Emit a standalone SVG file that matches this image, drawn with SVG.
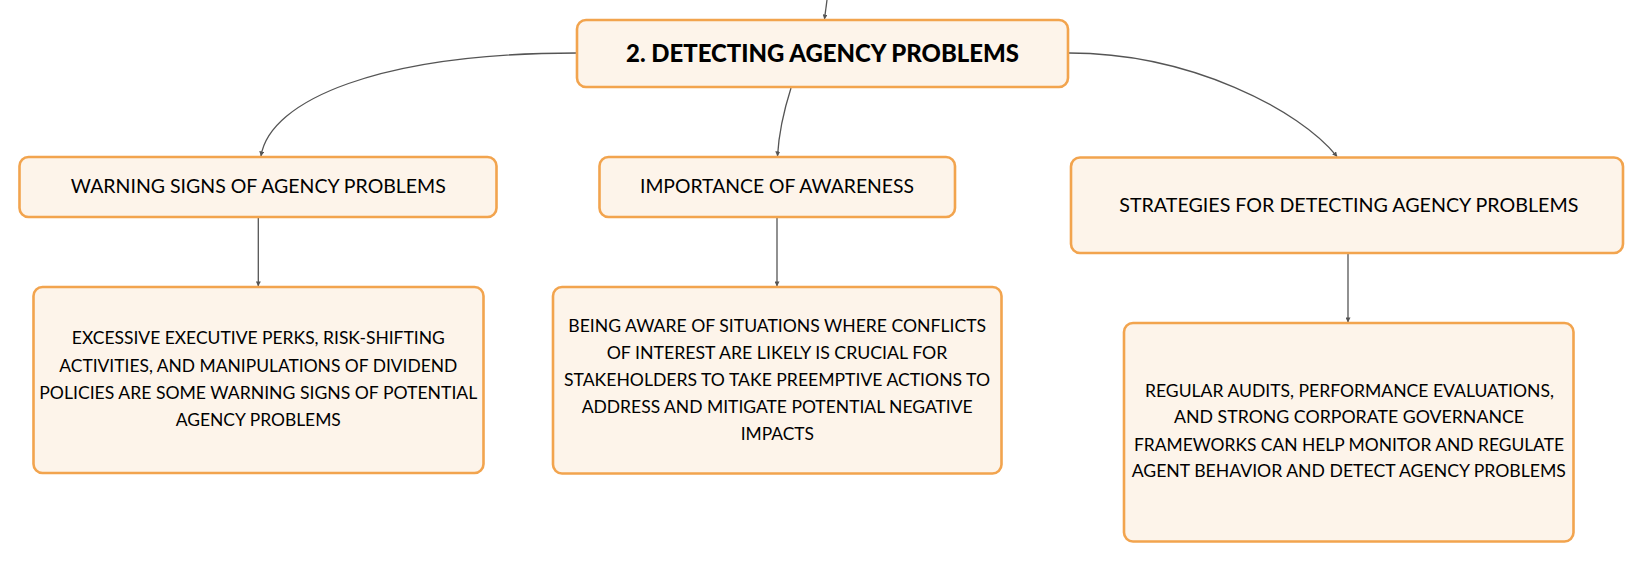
<svg xmlns="http://www.w3.org/2000/svg" width="1647" height="562" viewBox="0 0 1647 562">
<style>
.box{fill:#FDF4EA;stroke:#F2A44E;stroke-width:2.6}
.t{font-family:Lato,"Noto Sans","Liberation Sans",sans-serif;fill:#000;text-anchor:middle}
.title{font-size:19px}
.detail{font-size:16.5px}
.root{font-size:24px;font-weight:900}
.con{fill:none;stroke:#555;stroke-width:1.3;marker-end:url(#arr)}
</style>
<defs>
<marker id="arr" viewBox="0 0 6 6" refX="5.5" refY="3" markerWidth="5" markerHeight="5" markerUnits="userSpaceOnUse" orient="auto">
<path d="M0,0 L6,3 L0,6 z" fill="#555"/>
</marker>
</defs>
<rect width="1647" height="562" fill="#fff"/>
<g id="connectors">
<path class="con" d="M827,0 L824.5,19"/>
<path class="con" d="M577,53 C380,53 270,100 261,156"/>
<path class="con" d="M791,88 C784,110 779,130 777.5,156"/>
<path class="con" d="M1069,53 C1190,53 1300,110 1337,156.5"/>
<path class="con" d="M258.3,218 L258.3,286"/>
<path class="con" d="M777,218 L777,286"/>
<path class="con" d="M1348,254 L1348,322"/>
</g>
<g id="root">
<rect class="box" x="577" y="20" width="491" height="67" rx="9"/>
<text class="t root" x="822.5" y="62" textLength="393" lengthAdjust="spacingAndGlyphs">2. DETECTING AGENCY PROBLEMS</text>
</g>
<g id="warning">
<rect class="box" x="19.5" y="157" width="477" height="60" rx="9"/>
<text class="t title" x="258.3" y="193.3" textLength="375" lengthAdjust="spacingAndGlyphs">WARNING SIGNS OF AGENCY PROBLEMS</text>
</g>
<g id="importance">
<rect class="box" x="599.5" y="157" width="355.5" height="60" rx="9"/>
<text class="t title" x="777" y="193.3" textLength="274" lengthAdjust="spacingAndGlyphs">IMPORTANCE OF AWARENESS</text>
</g>
<g id="strategies">
<rect class="box" x="1071" y="157.5" width="552" height="95.5" rx="9"/>
<text class="t title" x="1348.8" y="211.5" textLength="459" lengthAdjust="spacingAndGlyphs">STRATEGIES FOR DETECTING AGENCY PROBLEMS</text>
</g>
<g id="warning-detail">
<rect class="box" x="33.5" y="287" width="450" height="186" rx="9"/>
<text class="t detail" x="258.3" y="344" textLength="373" lengthAdjust="spacingAndGlyphs">EXCESSIVE EXECUTIVE PERKS, RISK-SHIFTING</text>
<text class="t detail" x="258.3" y="371.5" textLength="398" lengthAdjust="spacingAndGlyphs">ACTIVITIES, AND MANIPULATIONS OF DIVIDEND</text>
<text class="t detail" x="258.3" y="398.5" textLength="438" lengthAdjust="spacingAndGlyphs">POLICIES ARE SOME WARNING SIGNS OF POTENTIAL</text>
<text class="t detail" x="258.3" y="425.7" textLength="165" lengthAdjust="spacingAndGlyphs">AGENCY PROBLEMS</text>
</g>
<g id="importance-detail">
<rect class="box" x="553" y="287" width="448.5" height="186.5" rx="9"/>
<text class="t detail" x="777.2" y="331.7" textLength="417.7" lengthAdjust="spacingAndGlyphs">BEING AWARE OF SITUATIONS WHERE CONFLICTS</text>
<text class="t detail" x="777" y="359" textLength="340.7" lengthAdjust="spacingAndGlyphs">OF INTEREST ARE LIKELY IS CRUCIAL FOR</text>
<text class="t detail" x="777" y="386" textLength="426" lengthAdjust="spacingAndGlyphs">STAKEHOLDERS TO TAKE PREEMPTIVE ACTIONS TO</text>
<text class="t detail" x="777.2" y="412.7" textLength="391" lengthAdjust="spacingAndGlyphs">ADDRESS AND MITIGATE POTENTIAL NEGATIVE</text>
<text class="t detail" x="777.3" y="440" textLength="73.3" lengthAdjust="spacingAndGlyphs">IMPACTS</text>
</g>
<g id="strategies-detail">
<rect class="box" x="1124" y="323" width="449.5" height="218.5" rx="9"/>
<text class="t detail" x="1349.5" y="396.7" textLength="409" lengthAdjust="spacingAndGlyphs">REGULAR AUDITS, PERFORMANCE EVALUATIONS,</text>
<text class="t detail" x="1349" y="423.3" textLength="350" lengthAdjust="spacingAndGlyphs">AND STRONG CORPORATE GOVERNANCE</text>
<text class="t detail" x="1349" y="450.7" textLength="430" lengthAdjust="spacingAndGlyphs">FRAMEWORKS CAN HELP MONITOR AND REGULATE</text>
<text class="t detail" x="1348.8" y="477.3" textLength="434.3" lengthAdjust="spacingAndGlyphs">AGENT BEHAVIOR AND DETECT AGENCY PROBLEMS</text>
</g>
</svg>
